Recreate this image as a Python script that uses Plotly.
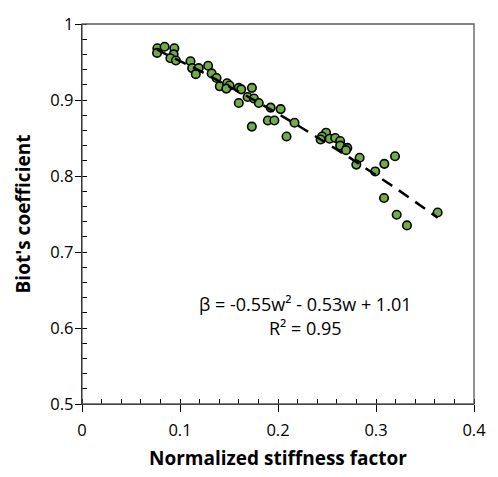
import numpy as np
import plotly.graph_objects as go

stiffness = [0.0769, 0.0766, 0.0843, 0.0942, 0.0935, 0.0902, 0.0958, 0.1107, 0.1124, 0.1191,
             0.1161, 0.1287, 0.1323, 0.1373, 0.1406, 0.1480, 0.1506, 0.1473, 0.1600, 0.1625,
             0.1734, 0.1600, 0.1690, 0.1754, 0.1804, 0.1925, 0.2027, 0.1896, 0.1963, 0.1733,
             0.2087, 0.2169, 0.2490, 0.2450, 0.2435, 0.2527, 0.2584, 0.2634, 0.2634, 0.2707,
             0.2694, 0.2833, 0.2799, 0.2992, 0.3085, 0.3194, 0.3082, 0.3211, 0.3316, 0.3629]
biot = [0.968, 0.962, 0.970, 0.968, 0.960, 0.955, 0.952, 0.951, 0.942, 0.942,
        0.934, 0.945, 0.935, 0.929, 0.918, 0.922, 0.919, 0.915, 0.916, 0.914,
        0.916, 0.896, 0.904, 0.902, 0.896, 0.890, 0.888, 0.873, 0.873, 0.865,
        0.852, 0.870, 0.857, 0.852, 0.848, 0.849, 0.850, 0.846, 0.840, 0.837,
        0.834, 0.824, 0.815, 0.806, 0.816, 0.826, 0.771, 0.749, 0.735, 0.752]

# Trendline coefficients (from the chart's equation)
coef_a, coef_b, coef_c = -0.55, -0.53, 1.01
w_fit = np.linspace(min(stiffness), max(stiffness), 100)
b_fit = coef_a * w_fit**2 + coef_b * w_fit + coef_c

FONT = "'Open Sans', sans-serif"

fig = go.Figure()
fig.add_trace(go.Scatter(
    x=stiffness, y=biot, mode="markers",
    marker=dict(size=8.5, color="#70AD47", line=dict(color="black", width=1.6)),
    showlegend=False,
))
fig.add_trace(go.Scatter(
    x=w_fit, y=b_fit, mode="lines",
    line=dict(color="black", width=2.5, dash="12px,8px"),
    showlegend=False,
))

fig.add_shape(type="rect", xref="paper", yref="paper", x0=0, y0=0, x1=1, y1=1,
              line=dict(color="#595959", width=1.3), layer="above")

fig.add_annotation(x=0.228, y=0.632, xref="x", yref="y", showarrow=False,
                   text="β = -0.55w² - 0.53w + 1.01", font=dict(family=FONT, size=18, color="black"))
fig.add_annotation(x=0.228, y=0.600, xref="x", yref="y", showarrow=False,
                   text="R² = 0.95", font=dict(family=FONT, size=18, color="black"))

fig.update_layout(
    width=498, height=477,
    margin=dict(l=82, r=14, t=14, b=72),
    paper_bgcolor="white", plot_bgcolor="white",
    font=dict(family=FONT, size=16, color="black"),
)
fig.update_xaxes(
    range=[0, 0.4], tickvals=[0, 0.1, 0.2, 0.3, 0.4], ticktext=["0", "0.1", "0.2", "0.3", "0.4"],
    showgrid=False, zeroline=False, showline=True, linecolor="black", linewidth=1.3,
    ticks="outside", ticklen=7, tickwidth=1.3, tickcolor="black",
    minor=dict(dtick=0.02, ticks="inside", ticklen=5, tickwidth=1, tickcolor="black", showgrid=False),
    title=dict(text="<b>Normalized stiffness factor</b>", font=dict(family=FONT, size=19), standoff=11),
    tickfont=dict(family=FONT, size=16.5),
    ticklabelstandoff=4,
)
fig.update_yaxes(
    range=[0.5, 1.0], tickvals=[0.5, 0.6, 0.7, 0.8, 0.9, 1.0], ticktext=["0.5", "0.6", "0.7", "0.8", "0.9", "1"],
    showgrid=False, zeroline=False, showline=True, linecolor="black", linewidth=1.3,
    ticks="outside", ticklen=6, tickwidth=1.3, tickcolor="black",
    minor=dict(dtick=0.02, ticks="inside", ticklen=5, tickwidth=1, tickcolor="black", showgrid=False),
    title=dict(text="<b>Biot's coefficient</b>", font=dict(family=FONT, size=19), standoff=14),
    tickfont=dict(family=FONT, size=16.5),
    ticklabelstandoff=-2,
)

fig.write_html("out.html")
